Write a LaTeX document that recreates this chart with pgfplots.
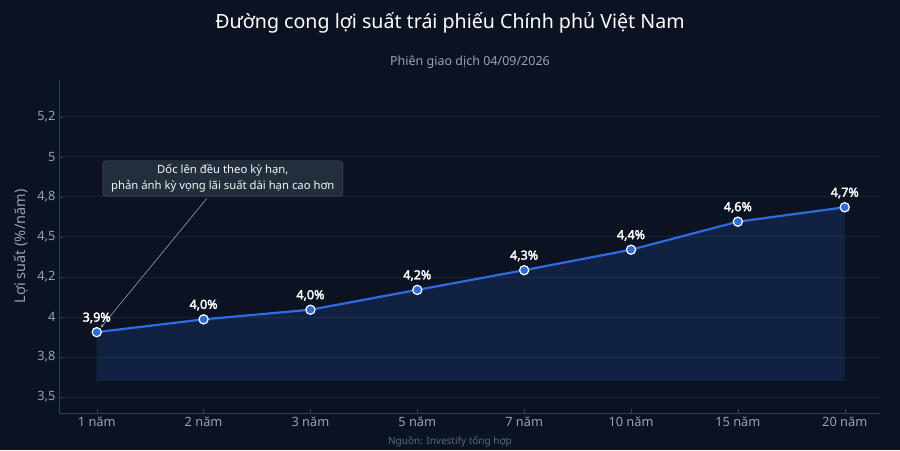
\documentclass[border=0pt]{standalone}
\usepackage{pgfplots}
\pgfplotsset{compat=1.18}
\usepackage{pgfplotstable}
\usepackage{fontspec}
\setmainfont{Noto Sans}
\newfontfamily\boldlab{Noto Sans}[FakeBold=2.5]
\definecolor{bg}{HTML}{0B1322}
\definecolor{gridc}{HTML}{18222F}
\definecolor{axc}{HTML}{343F4F}
\definecolor{tickc}{HTML}{9AA2AE}
\definecolor{lineblue}{HTML}{2E6BE0}
\definecolor{boxfill}{HTML}{232E3D}
\definecolor{boxedge}{HTML}{4A5566}
\definecolor{srcc}{HTML}{5F6875}
\pgfplotstableread{
x y lab
0 3.905 {3,9\%}
1 3.985 {4,0\%}
2 4.045 {4,0\%}
3 4.169 {4,2\%}
4 4.292 {4,3\%}
5 4.420 {4,4\%}
6 4.595 {4,6\%}
7 4.685 {4,7\%}
}\yc
\pgfplotstableread{
x y
0 3.905
1 3.985
2 4.045
3 4.169
4 4.292
5 4.420
6 4.595
7 4.685
7 3.6
0 3.6
}\poly
\begin{document}
\begin{tikzpicture}
\fill[bg] (0pt,0pt) rectangle (900pt,450pt);
\node[text=white,font=\fontsize{19.6}{22}\selectfont] at (450pt,427pt) {Đường cong lợi suất trái phiếu Chính phủ Việt Nam};
\node[text=tickc,font=\fontsize{12.5}{15}\selectfont] at (470pt,388pt) {Phiên giao dịch 04/09/2026};
\node[text=srcc,font=\fontsize{10}{12}\selectfont] at (450pt,8.5pt) {Nguồn: Investify tổng hợp};
\begin{axis}[
  at={(59pt,37pt)}, anchor=south west,
  width=821pt, height=333pt, scale only axis,
  xmin=-0.353, xmax=7.33,
  ymin=3.4, ymax=5.48,
  axis line style={axc},
  axis x line*=bottom, axis y line*=left,
  xtick={0,...,7},
  xticklabels={1 năm,2 năm,3 năm,5 năm,7 năm,10 năm,15 năm,20 năm},
  ytick={3.5,3.75,4,4.25,4.5,4.75,5,5.25},
  yticklabels={{3,5},{3,8},{4},{4,2},{4,5},{4,8},{5},{5,2}},
  tick style={axc},
  major tick length=4pt,
  tick label style={text=tickc,font=\fontsize{12.8}{15}\selectfont},
  ymajorgrids, grid style={gridc,line width=0.8pt},
  ylabel={Lợi suất (\%/năm)},
  every axis y label/.style={at={(ticklabel cs:0.5)},rotate=90,anchor=near ticklabel,
     text=tickc,font=\fontsize{14.5}{16}\selectfont},
  ylabel shift=2pt,
  clip=false,
]
\addplot[fill=lineblue,fill opacity=0.17,draw=none] table[x=x,y=y]{\poly} -- cycle;
\addplot[lineblue,line width=2.2pt,mark=*,mark size=4.6pt,
  mark options={fill=lineblue,draw=white,line width=1.2pt},
  nodes near coords, point meta=explicit symbolic,
  every node near coord/.append style={text=white,font=\fontsize{12.5}{14}\selectfont\boldlab,yshift=5pt}]
  table[x=x,y=y,meta=lab]{\yc};
\draw[-stealth,gray!60,line width=0.5pt] (axis cs:1.03,4.74) -- (axis cs:0.04,3.935);
\node[fill=boxfill,draw=boxedge,rounded corners=3pt,align=center,text=white!92!gray,
  font=\fontsize{11.3}{15.5}\selectfont,inner xsep=6pt,inner ysep=4pt,minimum width=240pt]
  at (axis cs:1.18,4.865) {Dốc lên đều theo kỳ hạn,\\phản ánh kỳ vọng lãi suất dài hạn cao hơn};
\end{axis}
\end{tikzpicture}
\end{document}
